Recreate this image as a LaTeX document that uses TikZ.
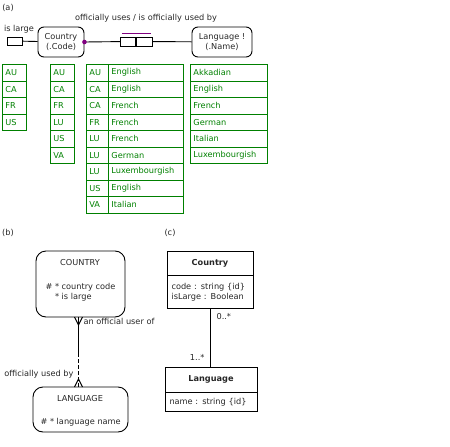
\documentclass[tikz,border=0pt]{standalone}
\usepackage{fontspec}
\setmainfont{DejaVu Sans}
\usetikzlibrary{positioning}
\definecolor{tblgreen}{RGB}{0,128,0}
\definecolor{ormpurple}{RGB}{128,0,128}
\begin{document}
\begin{tikzpicture}[x=1pt,y=-1pt,font=\fontsize{8.2}{9.8}\selectfont,text=black!85,
    cell/.style={draw=tblgreen,text=tblgreen,line width=0.8pt,anchor=north west,
        minimum height=16.5pt,inner xsep=3pt,inner ysep=0pt,align=left},
    ent/.style={draw,line width=0.9pt,rounded corners=6pt,minimum height=30pt,
        align=center,inner sep=1pt},
    erbox/.style={draw,line width=0.9pt,rounded corners=10pt},
    cls/.style={draw,line width=0.9pt,inner xsep=4.5pt,inner ysep=1pt}]
    \useasboundingbox (0,0) rectangle (450,447);

    % (a) ORM
    \node (lbl-a) at (8,8) {(a)};
    \node (fact) at (146,18) {officially uses / is officially used by};
    \node[ent,minimum width=46pt] (country) at (61,42) {Country\\(.Code)};
    \node[ent,minimum width=60pt] (language) at (222,42) {Language !\\(.Name)};
    \node[draw,line width=0.9pt,minimum width=15pt,minimum height=8pt,inner sep=0pt] (large) at (14.5,41) {};
    \node (large-lbl) at (19,29) {is large};
    \draw[line width=0.9pt] (large) -- (country);
    \node[draw,line width=0.9pt,minimum width=15.5pt,minimum height=9pt,inner sep=0pt] (role1) at (128,41.5) {};
    \node[draw,line width=0.9pt,minimum width=15.5pt,minimum height=9pt,inner sep=0pt,right=0pt of role1] (role2) {};
    \draw[line width=0.9pt] (country.east) -- (role1);
    \draw[line width=0.9pt] (role2) -- (language);
    \draw[ormpurple,line width=0.9pt] ([xshift=2pt,yshift=3pt]role1.north west) -- ([xshift=-2pt,yshift=3pt]role2.north east);
    \fill[ormpurple] (country.east) circle[radius=2.3];

    % tables
    \foreach \c [count=\i from 0] in {AU,CA,FR,US}
        \node[cell,text width=18pt] (t1-\i) at (2,64+16.5*\i) {\c};
    \foreach \c [count=\i from 0] in {AU,CA,FR,LU,US,VA}
        \node[cell,text width=18pt] (t2-\i) at (50,64+16.5*\i) {\c};
    \foreach \c/\l [count=\i from 0] in {AU/English,CA/English,CA/French,FR/French,LU/French,LU/German,LU/Luxembourgish,US/English,VA/Italian}{
        \node[cell,text width=16pt] (t3c-\i) at (86,64+16.5*\i) {\c};
        \node[cell,text width=69pt] (t3l-\i) at (108,64+16.5*\i) {\l};
    }
    \foreach \l [count=\i from 0] in {Akkadian,English,French,German,Italian,Luxembourgish}
        \node[cell,text width=71pt] (t4-\i) at (190,64+16.5*\i) {\l};

    % (b) ER
    \node (lbl-b) at (8,233) {(b)};
    \node[erbox,minimum width=89pt,minimum height=66pt] (er-country) at (80.5,284) {};
    \node (er-country-t) at (80,263) {COUNTRY};
    \node[anchor=west] (er-country-a1) at (42,287) {\# * country code};
    \node[anchor=west] (er-country-a2) at (42,297) {\phantom{\#} * is large};
    \node[erbox,minimum width=95pt,minimum height=45pt] (er-language) at (80.5,409.5) {};
    \node (er-language-t) at (80,399) {LANGUAGE};
    \node[anchor=west] (er-language-a1) at (37,422) {\# * language name};
    \coordinate (er-top) at (78.5,317);
    \coordinate (er-mid) at (78.5,353);
    \coordinate (er-bot) at (78.5,387);
    \draw[line width=0.9pt] (er-top) -- (er-mid);
    \draw[line width=0.9pt,dashed,dash pattern=on 4pt off 2pt] (er-mid) -- (er-bot);
    \draw[line width=0.9pt] ([xshift=-4pt]er-top) -- ([yshift=-8pt]er-top) -- ([xshift=4pt]er-top);
    \draw[line width=0.9pt] ([xshift=-4pt]er-bot) -- ([yshift=8pt]er-bot) -- ([xshift=4pt]er-bot);
    \node[anchor=west] (er-role1) at (80,321) {an official user of};
    \node[anchor=east] (er-role2) at (77,374) {officially used by};

    % (c) UML
    \node (lbl-c) at (170,233) {(c)};
    \node[cls,minimum width=86pt,minimum height=24pt] (u-country) at (210,263) {\textbf{Country}};
    \node[cls,below=0pt of u-country,minimum height=33pt,text width=77pt,align=left] (u-country-attr)
        {code : string \{id\}\\isLarge : Boolean};
    \node[cls,minimum width=92pt,minimum height=25pt] (u-language) at (211,379.5) {\textbf{Language}};
    \node[cls,below=0pt of u-language,minimum height=19pt,text width=83pt,align=left] (u-language-attr)
        {name : string \{id\}};
    \draw[line width=0.9pt] (u-country-attr.south) -- (u-country-attr.south |- u-language.north);
    \node[anchor=west] (u-mult1) at (213,317) {0..*};
    \node[anchor=east] (u-mult2) at (208,357) {1..*};
\end{tikzpicture}
\end{document}
